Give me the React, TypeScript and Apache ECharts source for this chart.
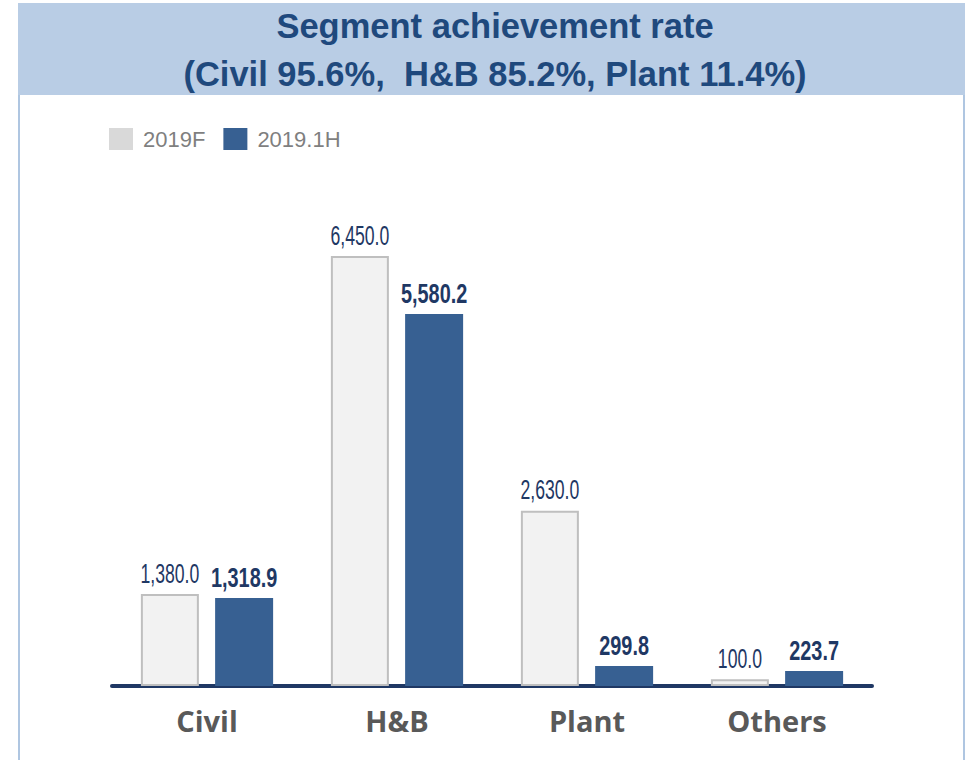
import React, { useEffect, useRef } from "react";
import * as echarts from "echarts";

const categories = ["Civil", "H&B", "Plant", "Others"];
const forecast2019F = [1380.0, 6450.0, 2630.0, 100.0];
const actual2019H1 = [1318.9, 5580.2, 299.8, 223.7];
const seriesNames = ["2019F", "2019.1H"];
const titleLines = ["Segment achievement rate", "(Civil 95.6%,  H&B 85.2%, Plant 11.4%)"];

const SANS = "'Liberation Sans', Arial, sans-serif";
const BAR_W = 58;
const BAR_GAP = 0.28;

const fmt = (v: number) =>
  v.toLocaleString("en-US", { minimumFractionDigits: 1, maximumFractionDigits: 1 });

const labelSeries = (values: number[], side: number, bold: boolean, scaleX: number) => ({
  type: "custom",
  silent: true,
  z: 10,
  coordinateSystem: "cartesian2d",
  encode: { x: 0, y: 1 },
  data: values.map((v, i) => [i, v]),
  renderItem: (_params: any, api: any) => {
    const idx = api.value(0);
    const val = api.value(1);
    const pt = api.coord([idx, val]);
    const offset = (side * BAR_W * (1 + BAR_GAP)) / 2;
    return {
      type: "text",
      x: pt[0] + offset,
      y: pt[1] - 7,
      scaleX,
      style: {
        text: fmt(val),
        x: 0,
        y: 0,
        align: "center",
        verticalAlign: "bottom",
        fontFamily: SANS,
        fontSize: 28,
        fontWeight: bold ? "bold" : "normal",
        fill: "#1f3864",
      },
    };
  },
});

export default function App() {
  const ref = useRef<HTMLDivElement>(null);
  useEffect(() => {
    if (!ref.current) return;
    const chart = echarts.init(ref.current, undefined, { renderer: "svg" });
    chart.setOption({
      animation: false,
      backgroundColor: "#ffffff",
      graphic: [
        { type: "rect", shape: { x: 18, y: 3, width: 947, height: 92 }, style: { fill: "#b9cde5" }, z: -10 },
        { type: "line", shape: { x1: 19, y1: 95, x2: 19, y2: 760 }, style: { stroke: "#95b3d7", lineWidth: 1.5 }, z: -10 },
        { type: "line", shape: { x1: 964, y1: 95, x2: 964, y2: 760 }, style: { stroke: "#95b3d7", lineWidth: 1.5 }, z: -10 },
      ],
      title: {
        text: titleLines.join("\n"),
        left: 495,
        textAlign: "center",
        top: 2,
        padding: 0,
        textStyle: {
          fontFamily: SANS,
          fontWeight: "bold",
          fontSize: 34.5,
          lineHeight: 48,
          color: "#1f497d",
        },
      },
      legend: {
        left: 104,
        top: 123,
        itemWidth: 24,
        itemHeight: 22,
        itemGap: 18,
        icon: "rect",
        textStyle: { fontFamily: SANS, fontSize: 22, color: "#7f7f7f", padding: [0, 0, 0, 5] },
        data: [
          { name: seriesNames[0], itemStyle: { color: "#d9d9d9", borderWidth: 0 } },
          { name: seriesNames[1], itemStyle: { color: "#376092" } },
        ],
      },
      grid: { left: 112, right: 97, top: 219.3, bottom: 74 },
      xAxis: {
        type: "category",
        data: categories,
        axisLine: { show: true, lineStyle: { color: "#1f3864", width: 4 } },
        axisTick: { show: false },
        axisLabel: {
          margin: 20,
          fontFamily: "'Open Sans', 'Noto Sans', sans-serif",
          fontWeight: "bold",
          fontSize: 29,
          color: "#595959",
        },
      },
      yAxis: { type: "value", min: 0, max: 7000, show: false, splitLine: { show: false } },
      series: [
        {
          name: seriesNames[0],
          type: "bar",
          data: forecast2019F,
          barWidth: BAR_W,
          barGap: `${BAR_GAP * 100}%`,
          itemStyle: { color: "#f2f2f2", borderColor: "#bfbfbf", borderWidth: 2 },
        },
        {
          name: seriesNames[1],
          type: "bar",
          data: actual2019H1,
          barWidth: BAR_W,
          barGap: `${BAR_GAP * 100}%`,
          itemStyle: { color: "#376092" },
        },
        labelSeries(forecast2019F, -1, false, 0.63),
        labelSeries(actual2019H1, 1, true, 0.71),
      ],
    });
    return () => chart.dispose();
  }, []);
  return <div ref={ref} style={{ width: 969, height: 760, position: "absolute", left: 0, top: 0 }} />;
}
